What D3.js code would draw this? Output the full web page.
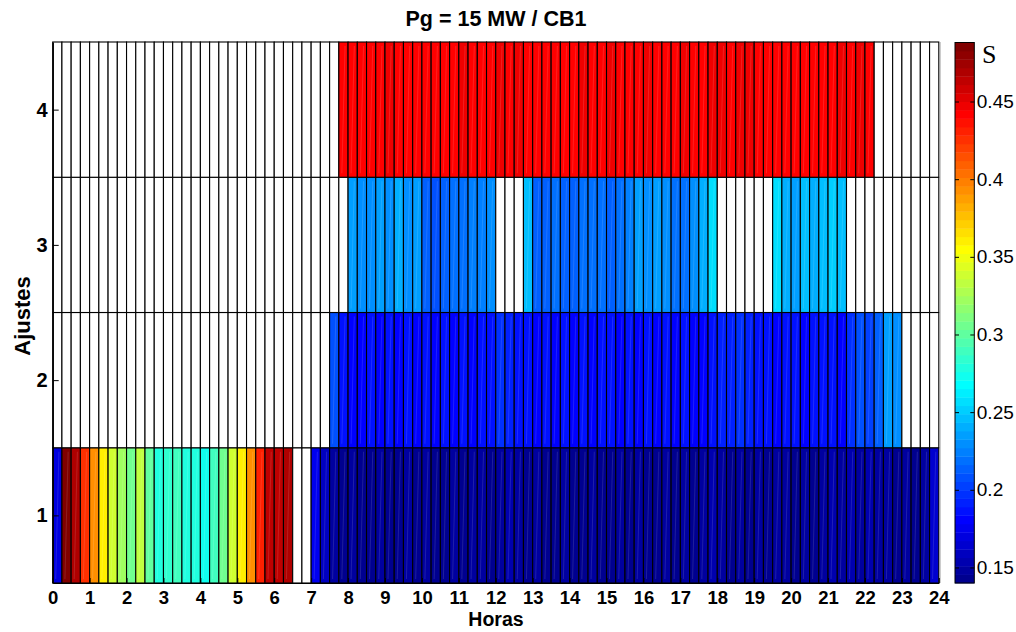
<!DOCTYPE html>
<html><head><meta charset="utf-8">
<script src="https://cdn.jsdelivr.net/npm/d3@7"></script>
<style>body{margin:0;background:#fff}</style>
</head><body>
<svg id="c" width="1016" height="632"></svg>
<script>
// ---- data ----
const ajustes = [1, 2, 3, 4];
const hourTicks = [0,1,2,3,4,5,6,7,8,9,10,11,12,13,14,15,16,17,18,19,20,21,22,23,24];
const slotHours = 0.25; // 96 quarter-hour slots
const cbTicks = [0.15, 0.2, 0.25, 0.3, 0.35, 0.4, 0.45];
const cRange = [0.14, 0.488];
const N = null;
const sAjuste1 = [0.170,0.485,0.469,0.426,0.393,0.360,0.339,0.322,0.306,0.333,
 0.300,0.279,0.284,0.290,0.279,0.279,0.273,0.290,0.306,0.339,
 0.360,0.393,0.431,0.464,0.464,0.469,N,N,0.175,0.159,
 0.148,0.143,0.148,0.143,0.143,0.148,0.143,0.143,0.148,0.143,
 0.148,0.143,0.143,0.148,0.143,0.148,0.148,0.143,0.148,0.154,
 0.148,0.143,0.148,0.143,0.143,0.148,0.143,0.143,0.148,0.143,
 0.143,0.148,0.143,0.148,0.143,0.143,0.148,0.143,0.148,0.143,
 0.148,0.154,0.148,0.143,0.148,0.143,0.148,0.143,0.148,0.148,
 0.143,0.148,0.143,0.148,0.154,0.148,0.154,0.148,0.154,0.148,
 0.148,0.143,0.148,0.143,0.148,0.165];
const sAjuste2 = [N,N,N,N,N,N,N,N,N,N, N,N,N,N,N,N,N,N,N,N, N,N,N,N,N,N,N,N,N,N,
 0.208,0.186,0.181,0.181,0.186,0.181,0.186,0.181,0.186,0.181,
 0.186,0.181,0.186,0.181,0.186,0.181,0.186,0.186,0.197,0.192,
 0.186,0.186,0.181,0.186,0.181,0.186,0.181,0.186,0.181,0.186,
 0.186,0.181,0.186,0.181,0.186,0.181,0.186,0.181,0.186,0.181,
 0.181,0.186,0.192,0.192,0.197,0.192,0.186,0.186,0.181,0.186,
 0.186,0.181,0.186,0.186,0.186,0.181,0.197,0.208,0.203,0.213,
 0.235,0.230, N,N,N,N];
const sAjuste3 = [N,N,N,N,N,N,N,N,N,N, N,N,N,N,N,N,N,N,N,N, N,N,N,N,N,N,N,N,N,N, N,N,
 0.235,0.230,0.230,0.235,0.230,0.241,0.230,0.235,0.213,0.208,0.213,0.219,0.219,0.224,0.224,0.230,
 N,N,N,
 0.246,0.213,0.213,0.219,0.213,0.213,0.219,0.219,0.219,0.213,0.219,0.224,0.235,0.230,0.235,0.230,0.219,0.219,0.230,0.241,0.257,
 N,N,N,N,N,N,
 0.257,0.241,0.235,0.246,0.241,0.246,0.251,0.246,
 N,N,N,N,N,N,N,N,N,N];
const sAjuste4 = [N,N,N,N,N,N,N,N,N,N, N,N,N,N,N,N,N,N,N,N, N,N,N,N,N,N,N,N,N,N, N,
 0.442,0.442,0.442,0.442,0.442,0.447,0.442,0.442,0.442,0.442,
 0.442,0.442,0.442,0.447,0.442,0.442,0.442,0.447,0.442,0.447,
 0.442,0.442,0.442,0.442,0.442,0.442,0.447,0.442,0.442,0.447,
 0.442,0.442,0.442,0.447,0.442,0.442,0.442,0.447,0.442,0.442,
 0.447,0.447,0.442,0.447,0.447,0.442,0.442,0.442,0.442,0.442,
 0.442,0.442,0.442,0.442,0.447,0.442,0.447,0.442,
 N,N,N,N,N,N,N];
const rowsData = [sAjuste1, sAjuste2, sAjuste3, sAjuste4];

// ---- colormap (MATLAB jet(64)) ----
function jetMap(m){
  const n = Math.ceil(m/4), u = [];
  for (let i=1;i<=n;i++) u.push(i/n);
  for (let i=1;i<n;i++) u.push(1);
  for (let i=n;i>=1;i--) u.push(i/n);
  const off = Math.ceil(n/2) - (m%4===1?1:0);
  const J = Array.from({length:m}, () => [0,0,0]);
  u.forEach((v,j) => {
    const g = off + j + 1, r = g + n, b = g - n;
    if (r>=1 && r<=m) J[r-1][0] = v;
    if (g>=1 && g<=m) J[g-1][1] = v;
    if (b>=1 && b<=m) J[b-1][2] = v;
  });
  return J.map(c => d3.rgb(Math.round(c[0]*255), Math.round(c[1]*255), Math.round(c[2]*255)).formatHex());
}
const jet = jetMap(64);
const color = v => {
  if (v == null) return '#ffffff';
  const idx = Math.floor((v - cRange[0]) / (cRange[1] - cRange[0]) * 64);
  return jet[Math.max(0, Math.min(63, idx))];
};

// ---- layout ----
const svg = d3.select('#c');
const x = d3.scaleLinear().domain([0, 24]).range([52.7, 938.8]);
const y = d3.scaleLinear().domain([0.5, 4.5]).range([583, 42]);

const cells = [];
rowsData.forEach((arr, ri) => arr.forEach((v, k) => cells.push({row: ajustes[ri], t0: k*slotHours, t1: (k+1)*slotHours, v})));

const g = svg.append('g');
g.selectAll('rect.cell').data(cells).join('rect')
  .attr('class','cell')
  .attr('x', d => x(d.t0))
  .attr('y', d => y(d.row + 0.5))
  .attr('width', d => x(d.t1) - x(d.t0))
  .attr('height', d => y(d.row - 0.5) - y(d.row + 0.5))
  .attr('fill', d => color(d.v))
  .attr('stroke', '#000')
  .attr('stroke-width', 1.1);

// faint diagonal streaks (faceted patch look)
g.selectAll('line.streak').data(cells.filter(d => d.v != null)).join('line')
  .attr('class','streak')
  .attr('x1', d => x(d.t0) + 3).attr('x2', d => x(d.t1) - 3)
  .attr('y1', d => y(d.row - 0.5) - 4).attr('y2', d => y(d.row + 0.5) + 4)
  .attr('stroke', '#fff').attr('stroke-opacity', 0.12).attr('stroke-width', 1);

// right box border
svg.append('line').attr('x1', 940).attr('x2', 940).attr('y1', 42).attr('y2', 583)
  .attr('stroke', '#999').attr('stroke-width', 1);

// axes
const xAxis = d3.axisBottom(x).tickValues(hourTicks).tickFormat(d3.format('d'))
  .tickSize(-5).tickSizeOuter(0).tickPadding(8);
const gx = svg.append('g').attr('transform', 'translate(0,583)').call(xAxis);
gx.select('.domain').attr('stroke', '#000').attr('stroke-width', 1.2);
gx.selectAll('line').attr('stroke', '#000');
gx.selectAll('text').attr('font-family', 'Liberation Sans, Arial, sans-serif')
  .attr('font-weight', 'bold').attr('font-size', 18.5).attr('fill', '#000');

const yAxis = d3.axisLeft(y).tickValues(ajustes).tickFormat(d3.format('d'))
  .tickSize(-6).tickSizeOuter(0).tickPadding(5);
const gy = svg.append('g').attr('transform', 'translate(52.7,0)').call(yAxis);
gy.select('.domain').attr('stroke', '#000').attr('stroke-width', 1.5);
gy.selectAll('line').attr('stroke', '#000');
gy.selectAll('text').attr('font-family', 'Liberation Sans, Arial, sans-serif')
  .attr('font-weight', 'bold').attr('font-size', 20).attr('fill', '#000');

// titles
svg.append('text').attr('x', 496).attr('y', 26).attr('text-anchor', 'middle')
  .attr('font-family', 'Liberation Sans, Arial, sans-serif').attr('font-weight', 'bold')
  .attr('font-size', 21.5).text('Pg = 15 MW / CB1');
svg.append('text').attr('x', 496).attr('y', 626).attr('text-anchor', 'middle')
  .attr('font-family', 'Liberation Sans, Arial, sans-serif').attr('font-weight', 'bold')
  .attr('font-size', 19.5).text('Horas');
svg.append('text').attr('transform', 'translate(30,316) rotate(-90)').attr('text-anchor', 'middle')
  .attr('font-family', 'Liberation Sans, Arial, sans-serif').attr('font-weight', 'bold')
  .attr('font-size', 22).text('Ajustes');

// colorbar
const cbX0 = 955, cbX1 = 974.3;
const yc = d3.scaleLinear().domain(cRange).range([583, 42.5]);
const step = (cRange[1] - cRange[0]) / 64;
svg.append('g').selectAll('rect').data(jet).join('rect')
  .attr('x', cbX0).attr('width', cbX1 - cbX0)
  .attr('y', (c, i) => yc(cRange[0] + (i+1)*step))
  .attr('height', (c, i) => yc(cRange[0] + i*step) - yc(cRange[0] + (i+1)*step) + 0.4)
  .attr('fill', c => c);
svg.append('rect').attr('x', cbX0).attr('y', 42.5).attr('width', cbX1 - cbX0).attr('height', 583 - 42.5)
  .attr('fill', 'none').attr('stroke', '#000').attr('stroke-width', 1);
const cbR = svg.append('g').attr('transform', `translate(${cbX1},0)`)
  .call(d3.axisRight(yc).tickValues(cbTicks).tickFormat(d => String(d)).tickSize(-4).tickSizeOuter(0).tickPadding(2.5));
cbR.select('.domain').remove();
cbR.selectAll('line').attr('stroke', '#000');
cbR.selectAll('text').attr('font-family', 'Liberation Sans, Arial, sans-serif')
  .attr('font-size', 19).attr('fill', '#000');
const cbL = svg.append('g').attr('transform', `translate(${cbX0},0)`)
  .call(d3.axisLeft(yc).tickValues(cbTicks).tickFormat('').tickSize(-4).tickSizeOuter(0));
cbL.select('.domain').remove();
cbL.selectAll('line').attr('stroke', '#000');
svg.append('text').attr('x', 982).attr('y', 62.5)
  .attr('font-family', 'Liberation Serif, Times New Roman, serif').attr('font-size', 26).text('S');
</script>
</body></html>
